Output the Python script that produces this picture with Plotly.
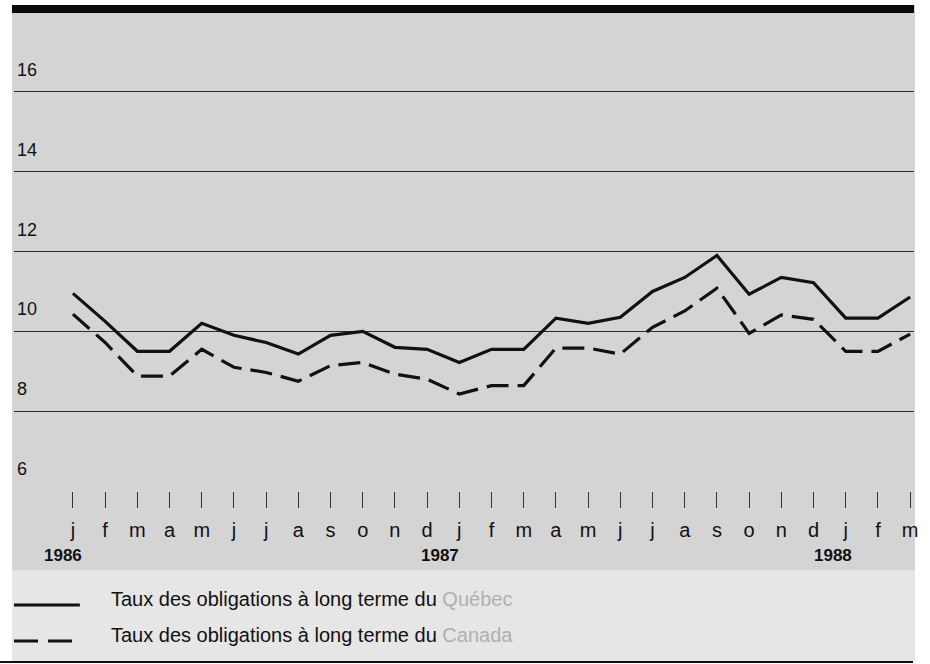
import plotly.graph_objects as go

months = ["j", "f", "m", "a", "m", "j", "j", "a", "s", "o", "n", "d",
          "j", "f", "m", "a", "m", "j", "j", "a", "s", "o", "n", "d",
          "j", "f", "m"]
quebec = [10.95, 10.25, 9.5, 9.5, 10.2, 9.9, 9.72, 9.43, 9.9, 10.0, 9.6, 9.55,
          9.22, 9.55, 9.55, 10.33, 10.2, 10.35, 11.0, 11.35, 11.9, 10.93, 11.35, 11.22,
          10.33, 10.33, 10.86]
canada = [10.43, 9.72, 8.88, 8.88, 9.55, 9.1, 8.97, 8.75, 9.14, 9.22, 8.93, 8.8,
          8.43, 8.64, 8.64, 9.58, 9.58, 9.43, 10.1, 10.51, 11.08, 9.95, 10.41, 10.3,
          9.5, 9.5, 9.93]
y_ticks = [6, 8, 10, 12, 14, 16]
years = ["1986", "1987", "1988"]
year_pos = [-0.3, 11.4, 23.6]
legend_labels = ["Taux des obligations à long terme du ", "Taux des obligations à long terme du "]
legend_tail = ["Québec", "Canada"]

x = list(range(len(months)))

W, H = 930, 664
ML, MR, MT, MB = 14, 14, 12, 173
PW = W - ML - MR
PH = H - MT - MB

def px(v):
    return (v - ML) / PW

def py(v):
    return (H - MB - v) / PH

fig = go.Figure()
fig.add_trace(go.Scatter(x=x, y=quebec, mode="lines",
                         line=dict(color="#111111", width=3.2),
                         name="Québec", showlegend=False))
fig.add_trace(go.Scatter(x=x, y=canada, mode="lines",
                         line=dict(color="#111111", width=3.2, dash="22px,9px"),
                         name="Canada", showlegend=False))

shapes = [
    dict(type="rect", xref="paper", yref="paper", x0=px(12), x1=px(917), y0=py(5), y1=py(570),
         fillcolor="#d4d4d4", line=dict(width=0), layer="below"),
    dict(type="rect", xref="paper", yref="paper", x0=px(12), x1=px(917), y0=py(570), y1=py(661),
         fillcolor="#e6e6e6", line=dict(width=0), layer="below"),
    dict(type="rect", xref="paper", yref="paper", x0=px(12), x1=px(916), y0=py(5), y1=py(13),
         fillcolor="#0a0a0a", line=dict(width=0)),
    dict(type="line", xref="paper", yref="paper", x0=px(0), x1=px(915), y0=py(662), y1=py(662),
         line=dict(color="#111111", width=2)),
    dict(type="line", xref="paper", yref="paper", x0=px(14), x1=px(80), y0=py(605), y1=py(605),
         line=dict(color="#111111", width=3)),
    dict(type="line", xref="paper", yref="paper", x0=px(14), x1=px(80), y0=py(641), y1=py(641),
         line=dict(color="#111111", width=3, dash="24px,10px")),
]

annotations = []
for v in y_ticks:
    annotations.append(dict(x=px(15), y=v + 0.55, xref="paper", yref="y", text=str(v),
                            showarrow=False, xanchor="left", yanchor="middle",
                            font=dict(size=18, color="#111111",
                                      family="Liberation Sans Narrow, Liberation Sans, Arial")))
for yr, pos in zip(years, year_pos):
    annotations.append(dict(x=pos, y=py(555), xref="x", yref="paper", text="<b>" + yr + "</b>",
                            showarrow=False, xanchor="center", yanchor="middle",
                            font=dict(size=17, color="#111111",
                                      family="Liberation Sans Narrow, Liberation Sans, Arial")))
for i, (lab, tail) in enumerate(zip(legend_labels, legend_tail)):
    annotations.append(dict(x=px(109), y=py(599 + 36 * i), xref="paper", yref="paper",
                            text=lab + "<span style='color:#b0b0b0'>" + tail + "</span>",
                            showarrow=False, xanchor="left", yanchor="middle",
                            font=dict(size=20, color="#111111",
                                      family="Liberation Sans Narrow, Liberation Sans, Arial")))

fig.update_layout(
    width=W, height=H,
    margin=dict(l=ML, r=MR, t=MT, b=MB),
    paper_bgcolor="white",
    plot_bgcolor="rgba(0,0,0,0)",
    shapes=shapes,
    annotations=annotations,
    xaxis=dict(range=[-1.83, 26.12], tickvals=x, ticktext=months,
               ticks="outside", ticklen=16, tickwidth=1, tickcolor="#333333",
               ticklabelstandoff=5,
               showgrid=False, zeroline=False, showline=False,
               tickfont=dict(size=20, color="#111111", family="Liberation Sans, Arial")),
    yaxis=dict(range=[6, 18], tickvals=y_ticks, showticklabels=False,
               showgrid=True, gridcolor="#2a2a2a", gridwidth=1.3,
               zeroline=False, showline=False, ticks=""),
)

fig.write_html("out.html", config={"displayModeBar": False},
               post_script="document.body.style.margin='0px';")
